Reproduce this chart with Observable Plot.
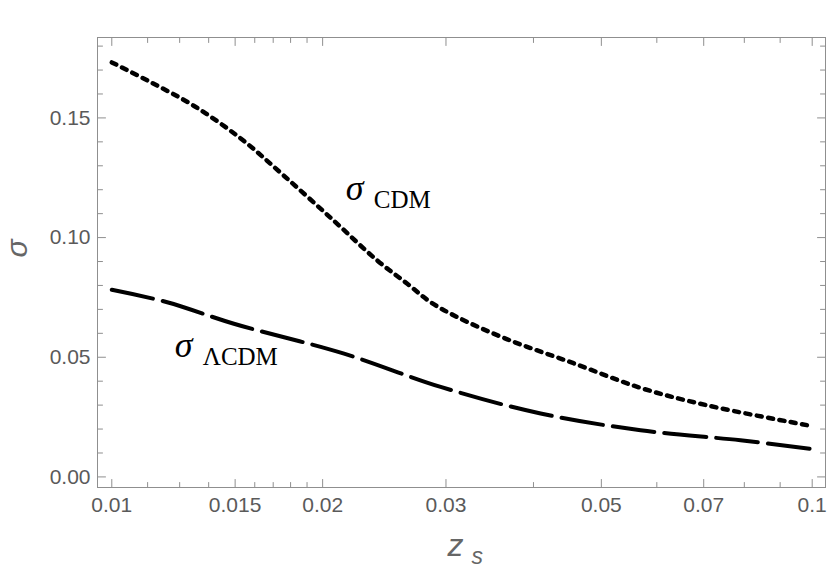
<!DOCTYPE html>
<html><head><meta charset="utf-8">
<script src="https://cdn.jsdelivr.net/npm/d3@7"></script>
<script src="https://cdn.jsdelivr.net/npm/@observablehq/plot@0.6"></script>
<style>
body{margin:0;background:#fff;}
</style>
</head><body><div id="chart"></div>
<script>
// σ_CDM curve (dotted)
const zCDM = [0.01, 0.01137, 0.01309, 0.01528, 0.0176, 0.02074, 0.02394, 0.02642, 0.02853, 0.03113, 0.0367, 0.04563, 0.05688, 0.0708, 0.0984, 0.1];
const sigmaCDM = [0.1732, 0.1649, 0.1551, 0.1414, 0.1259, 0.1071, 0.0904, 0.0807, 0.0730, 0.0668, 0.0575, 0.0475, 0.0372, 0.0299, 0.0216, 0.0212];
// σ_ΛCDM curve (dashed)
const zLCDM = [0.01, 0.012, 0.01494, 0.02146, 0.02948, 0.04095, 0.05688, 0.079, 0.1];
const sigmaLCDM = [0.0782, 0.073, 0.064, 0.0515, 0.0376, 0.0265, 0.0195, 0.0153, 0.0116];

// axes
const xDomain = [0.009541, 0.10447];
const yDomain = [-0.00442, 0.1836];
const xMajor = [0.01, 0.015, 0.02, 0.03, 0.05, 0.07, 0.1];
const xMajorLabels = ["0.01", "0.015", "0.02", "0.03", "0.05", "0.07", "0.1"];
const xMinor = [0.01125, 0.0125, 0.01375, 0.016, 0.017, 0.018, 0.019, 0.04, 0.06, 0.08, 0.09];
const yMajor = [0, 0.05, 0.10, 0.15];
const yMajorLabels = ["0.00", "0.05", "0.10", "0.15"];
const yMinor = [0.01, 0.02, 0.03, 0.04, 0.06, 0.07, 0.08, 0.09, 0.11, 0.12, 0.13, 0.14, 0.16, 0.17, 0.18];

// curve annotations
const annSymbol = ["σ", "σ"];
const annSub = ["CDM", "ΛCDM"];
const annZ = [0.02158, 0.0123];
const annSigma = [0.1155, 0.0500];

const cdm = zCDM.map((z, i) => ({z, s: sigmaCDM[i]}));
const lcdm = zLCDM.map((z, i) => ({z, s: sigmaLCDM[i]}));
const ann = annZ.map((z, i) => ({z, s: annSigma[i], sym: annSymbol[i], sub: annSub[i]}));
const xLab = new Map(xMajor.map((v, i) => [v, xMajorLabels[i]]));
const yLab = new Map(yMajor.map((v, i) => [v, yMajorLabels[i]]));

const gray = "#8f8f8f";
const labelGray = "#5a5a5a";
const tickShape = {draw(context, l) { context.moveTo(0, 0); context.lineTo(0, -l); }};
const ticks = (data, opts) => Plot.vector(data, {anchor: "start", shape: tickShape, stroke: gray, strokeWidth: 1, ...opts});

const chart = Plot.plot({
  width: 830,
  height: 574,
  marginLeft: 97,
  marginRight: 5,
  marginTop: 37,
  marginBottom: 87,
  style: {fontFamily: "'Liberation Sans', Arial, sans-serif", background: "#fff", overflow: "visible"},
  x: {type: "log", domain: xDomain, label: null},
  y: {domain: yDomain, label: null},
  marks: [
    Plot.frame({stroke: gray, strokeWidth: 1}),
    // inward ticks, bottom & top
    ticks(xMajor, {x: d => d, y: () => yDomain[0], length: 8, rotate: 0}),
    ticks(xMinor, {x: d => d, y: () => yDomain[0], length: 5, rotate: 0}),
    ticks(xMajor, {x: d => d, y: () => yDomain[1], length: 8, rotate: 180}),
    ticks(xMinor, {x: d => d, y: () => yDomain[1], length: 5, rotate: 180}),
    // inward ticks, left & right
    ticks(yMajor, {y: d => d, x: () => xDomain[0], length: 8, rotate: 90}),
    ticks(yMinor, {y: d => d, x: () => xDomain[0], length: 5, rotate: 90}),
    ticks(yMajor, {y: d => d, x: () => xDomain[1], length: 8, rotate: 270}),
    ticks(yMinor, {y: d => d, x: () => xDomain[1], length: 5, rotate: 270}),
    Plot.axisX(xMajor, {tickSize: 0, tickPadding: 10, tickFormat: d => xLab.get(d), fontSize: 21, color: labelGray, label: null}),
    Plot.axisY(yMajor, {tickSize: 0, tickPadding: 7, tickFormat: d => yLab.get(d), fontSize: 21, color: labelGray, label: null}),
    // axis titles
    Plot.text(["σ"], {frameAnchor: "left", dx: -80, dy: -5, rotate: -90, fontSize: 30, fontStyle: "italic", fill: "#666"}),
    Plot.text(["z"], {frameAnchor: "bottom", dx: -6, dy: 68, textAnchor: "middle", lineAnchor: "bottom", fontSize: 32, fontStyle: "italic", fill: "#666"}),
    Plot.text(["s"], {frameAnchor: "bottom", dx: 10, dy: 76, textAnchor: "start", lineAnchor: "bottom", fontSize: 23, fontStyle: "italic", fill: "#666"}),
    // curves
    Plot.line(cdm, {x: "z", y: "s", curve: "catmull-rom", stroke: "#000", strokeWidth: 4.5, strokeDasharray: "5,6.5"}),
    Plot.line(lcdm, {x: "z", y: "s", curve: "catmull-rom", stroke: "#000", strokeWidth: 4, strokeDasharray: "42,10"}),
    // annotations
    Plot.text(ann, {x: "z", y: "s", text: "sym", textAnchor: "start", lineAnchor: "bottom", fontFamily: "'Liberation Serif', 'Times New Roman', serif", fontStyle: "italic", fontSize: 36, fill: "#000"}),
    Plot.text(ann, {x: "z", y: "s", text: "sub", dx: 28, dy: 8, textAnchor: "start", lineAnchor: "bottom", fontFamily: "'Liberation Serif', 'Times New Roman', serif", fontSize: 25, fill: "#000"})
  ]
});
document.getElementById("chart").appendChild(chart);
</script>
</body></html>
